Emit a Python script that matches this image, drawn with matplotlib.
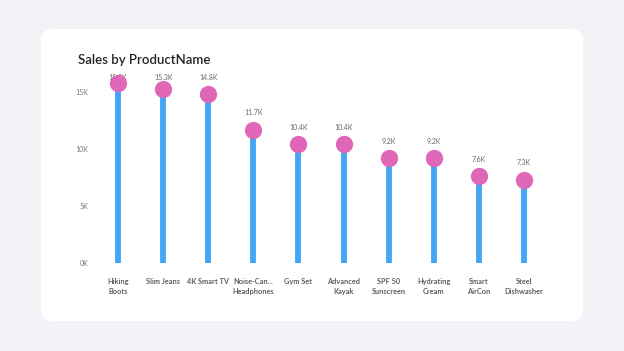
import matplotlib.pyplot as plt
from matplotlib.patches import FancyBboxPatch

plt.rcParams['font.family'] = ['Lato', 'DejaVu Sans']

# Data
products = ['Hiking\nBoots', 'Slim Jeans', '4K Smart TV', 'Noise-Can...\nHeadphones', 'Gym Set',
            'Advanced\nKayak', 'SPF 50\nSunscreen', 'Hydrating\nCream', 'Smart\nAirCon', 'Steel\nDishwasher']
sales = [15.8, 15.3, 14.8, 11.7, 10.4, 10.4, 9.2, 9.2, 7.6, 7.3]  # in thousands
value_labels = ['15.8K', '15.3K', '14.8K', '11.7K', '10.4K', '10.4K', '9.2K', '9.2K', '7.6K', '7.3K']
y_ticks = [0, 5, 10, 15]
y_tick_labels = ['0K', '5K', '10K', '15K']

W, H = 624, 351
fig = plt.figure(figsize=(W / 100, H / 100), dpi=100)
fig.patch.set_facecolor('#f2f3f7')

# white card
card = FancyBboxPatch((41 / W, 1 - 321 / H), (583 - 41) / W, (321 - 29) / H,
                      boxstyle='round,pad=0,rounding_size=0.018',
                      transform=fig.transFigure, facecolor='white', edgecolor='none',
                      mutation_aspect=W / H, zorder=-5)
fig.patches.append(card)

fig.text(78 / W, 1 - 60 / H, 'Sales by ProductName', fontsize=9.5, color='#252423',
         va='center', ha='left', fontweight='semibold')

ax = fig.add_axes([95.5 / W, 1 - 263 / H, 451 / W, 193.8 / H])
ax.set_facecolor('none')
x = list(range(len(products)))

ax.vlines(x, 0, sales, color='#42a5f5', linewidth=4.2, zorder=2)
ax.scatter(x, sales, s=155, color='#e066b8', zorder=3, linewidths=0)
# labels sit above the marker, but are kept inside the plot area at the top
for xi, v, lab in zip(x, sales, value_labels):
    ax.text(xi, min(v + 1.5, 16.3), lab, ha='center', va='center', fontsize=5,
            color='#666666', zorder=1)

ax.set_xlim(-0.5, len(products) - 0.5)
ax.set_ylim(0, 17)
ax.set_yticks(y_ticks)
ax.set_yticklabels(y_tick_labels, fontsize=5, color='#777777')
ax.set_xticks(x)
ax.set_xticklabels(products, fontsize=5.3, color='#605e5c', fontweight='bold', linespacing=1.5)
ax.tick_params(axis='both', length=0)
ax.tick_params(axis='x', pad=11)
ax.tick_params(axis='y', pad=5)
for s in ax.spines.values():
    s.set_visible(False)

fig.savefig('out.png', dpi=100, facecolor=fig.get_facecolor())
